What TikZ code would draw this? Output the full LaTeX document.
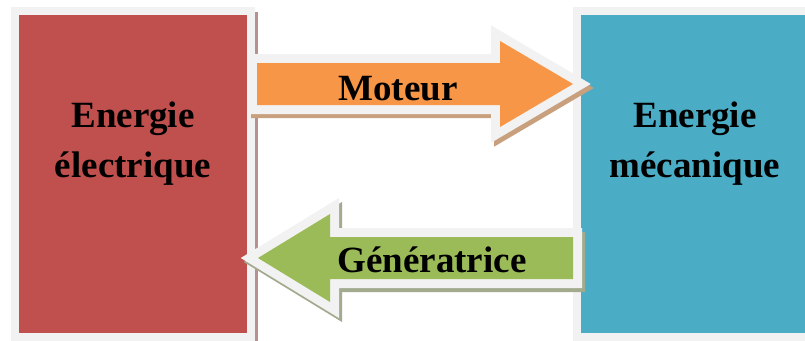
\documentclass[tikz,border=0pt]{standalone}
\usepackage{fontspec}
\setmainfont{Liberation Serif}
\definecolor{rimgray}{HTML}{F2F2F2}
\definecolor{elecred}{HTML}{C0504D}
\definecolor{mecblue}{HTML}{4BACC6}
\definecolor{motororange}{HTML}{F79646}
\definecolor{genegreen}{HTML}{9BBB59}
\definecolor{redshadow}{HTML}{B8908D}
\definecolor{orangeshadow}{HTML}{C9A07E}
\definecolor{greenshadow}{HTML}{A3AB8E}
\begin{document}
\begin{tikzpicture}[x=1pt,y=-1pt,
  lbl/.style={font=\fontsize{37}{50}\selectfont\bfseries, inner sep=0pt, align=center},
  rim/.style={draw=rimgray, line width=18pt, line join=miter},
  shade/.style={line width=18pt, line join=miter, shift={(3,4)}},
]
\useasboundingbox (0,0) rectangle (805,340);
\clip (0,0) rectangle (805,340);

% electrical energy block
\fill[redshadow] (255,12) rectangle (258,345);
\fill[rimgray] (11,7) rectangle (255,341);
\fill[elecred] (19,15) rectangle (247,333);
\node[lbl, anchor=base] (elec) at (133,177) {Energie\\électrique};

% mechanical energy block
\fill[rimgray] (573,7) rectangle (830,341);
\fill[mecblue] (581,15) rectangle (830,333);
\node[lbl, anchor=base] (meca) at (695,177) {Energie\\mécanique};

% motor arrow (left to right)
\def\motorarrow{(257,63) -- (500,63) -- (500,41) -- (573,84) -- (500,127) -- (500,105) -- (257,105) -- cycle}
\draw[shade, draw=orangeshadow, fill=orangeshadow] \motorarrow;
\draw[rim] \motorarrow;
\fill[motororange] \motorarrow;
\node[lbl, anchor=base] (moteur) at (398,100) {Moteur};

% generator arrow (right to left)
\def\genarrow{(573,237) -- (330,237) -- (330,214) -- (258,258) -- (330,302) -- (330,279) -- (573,279) -- cycle}
\draw[shade, draw=greenshadow, fill=greenshadow] \genarrow;
\draw[rim] \genarrow;
\fill[genegreen] \genarrow;
\node[lbl, anchor=base] (gen) at (432,272) {Génératrice};
\end{tikzpicture}
\end{document}
